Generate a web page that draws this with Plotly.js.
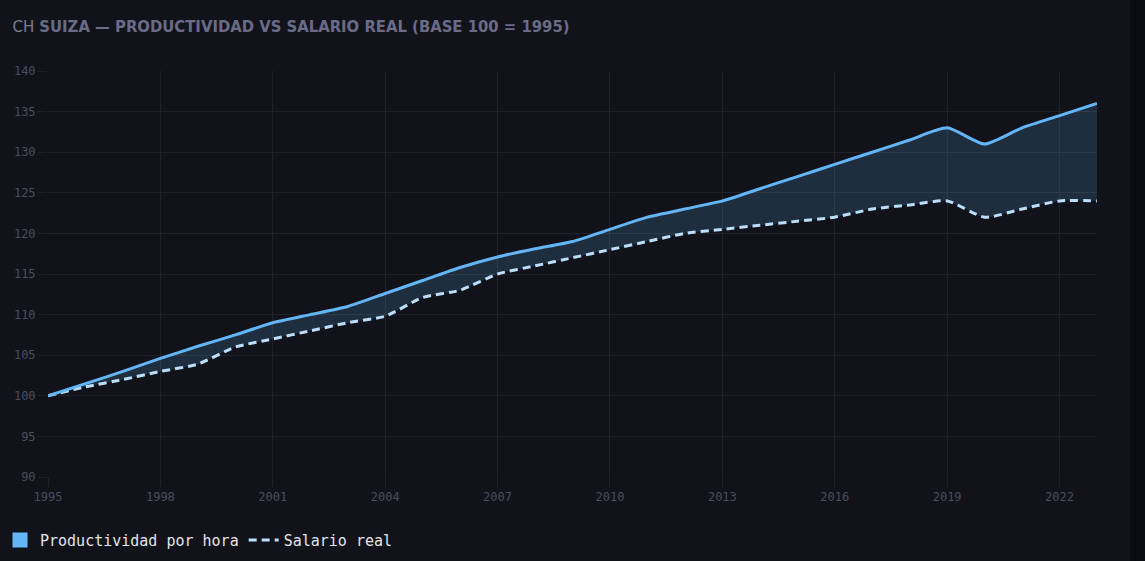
<!DOCTYPE html>
<html>
<head>
<meta charset="utf-8">
<script src="https://cdn.plot.ly/plotly-3.0.1.min.js"></script>
<style>
	html, body { margin: 0; padding: 0; background: #0b0c0f; overflow: hidden; }
	#chart     { width: 1130px; height: 561px; border-right: 1px solid #1b1c23; box-sizing: border-box; }
</style>
</head>
<body>
<div id="chart"></div>
<script>
// suiza: productividad por hora vs salario real, base 100 = 1995
const YEARS = [ 1995, 1996, 1997, 1998, 1999, 2000, 2001, 2002, 2003, 2004,
                2005, 2006, 2007, 2008, 2009, 2010, 2011, 2012, 2013, 2014,
                2015, 2016, 2017, 2018, 2019, 2020, 2021, 2022, 2023 ];

const PRODUCTIVIDAD = [ 100, 101.5, 103, 104.6, 106.1, 107.5, 109, 110, 111, 112.6,
                        114.2, 115.8, 117.1, 118.1, 119, 120.5, 122, 123, 124, 125.5,
                        127, 128.5, 130, 131.5, 133, 131, 133, 134.5, 136 ];

const SALARIO = [ 100, 101.1, 102, 103, 103.9, 106, 107, 108, 109, 109.8,
                  112.1, 113, 115, 116, 117, 118, 119, 120, 120.5, 121,
                  121.5, 122, 123, 123.5, 124, 122, 123, 124, 124 ];

const X_TICKS = [ 1995, 1998, 2001, 2004, 2007, 2010, 2013, 2016, 2019, 2022 ];
const Y_TICKS = [ 90, 95, 100, 105, 110, 115, 120, 125, 130, 135, 140 ];

const BG        = '#12131a';
const GRID      = '#212229';
const TICK_TXT  = '#4b4c5e';
const PROD_COL  = '#64b5f6';
const SAL_COL   = '#bbdefb';
const MONO      = 'DejaVu Sans Mono, Liberation Mono, monospace';
const NARROW    = 'DejaVu Sans Condensed, Liberation Sans Narrow, sans-serif';

function make_traces() {
	return [
		{
			// legend only: solid square like the original
			x: [ null ], y: [ null ],
			type: 'scatter', mode: 'markers',
			marker: { symbol: 'square', size: 15, color: PROD_COL },
			name: 'Productividad por hora',
			hoverinfo: 'skip'
		},
		{
			x: YEARS, y: SALARIO,
			type: 'scatter', mode: 'lines',
			line: { color: SAL_COL, width: 3, dash: '8px,5px', shape: 'spline', smoothing: 0.6 },
			name: 'Salario real'
		},
		{
			x: YEARS, y: PRODUCTIVIDAD,
			type: 'scatter', mode: 'lines',
			line: { color: PROD_COL, width: 3, shape: 'spline', smoothing: 0.6 },
			fill: 'tonexty',
			fillcolor: 'rgba(100,181,246,0.17)',
			name: 'Productividad por hora',
			showlegend: false
		}
	];
}

function draw_chart() {
	var layout = {
		width        : 1130,
		height       : 561,
		margin       : { l: 48, r: 33, t: 71, b: 84 },
		paper_bgcolor: BG,
		plot_bgcolor : BG,
		showlegend   : true,
		title        : {
			text   : '<span style="font-family:DejaVu Sans;font-weight:normal;font-size:15px;color:#7b7c92">CH</span> SUIZA — PRODUCTIVIDAD VS SALARIO REAL (BASE 100 = 1995)',
			font   : { family: NARROW, size: 16.5, color: '#6a6b88', weight: 'bold' },
			xref   : 'container', x: 0.011, xanchor: 'left',
			yref   : 'container', y: 0.954, yanchor: 'middle'
		},
		xaxis        : {
			range     : [ 1995, 2023 ],
			tickvals  : X_TICKS,
			ticktext  : X_TICKS.map( String ),
			showgrid  : true, gridcolor: GRID, gridwidth: 1,
			zeroline  : false, showline: false,
			ticks     : 'outside', ticklen: 9, tickcolor: GRID,
			tickfont  : { family: MONO, size: 12, color: TICK_TXT }
		},
		yaxis        : {
			range     : [ 90, 140 ],
			tickvals  : Y_TICKS,
			ticktext  : Y_TICKS.map( String ),
			showgrid  : true, gridcolor: GRID, gridwidth: 1,
			zeroline  : false, showline: false,
			ticks     : 'outside', ticklen: 9, tickcolor: GRID,
			tickfont  : { family: MONO, size: 12, color: TICK_TXT }
		},
		legend       : {
			orientation: 'h',
			traceorder : 'normal',
			xref: 'container', x: 0, xanchor: 'left',
			yref: 'container', y: 0.037, yanchor: 'middle',
			bgcolor: 'rgba(0,0,0,0)',
			itemwidth: 30,
			font: { family: MONO, size: 15, color: '#e3e3e8' }
		},
		hovermode    : false
	};
	Plotly.newPlot( 'chart', make_traces(), layout, { displayModeBar: false, staticPlot: true } );
}

draw_chart();
</script>
</body>
</html>
